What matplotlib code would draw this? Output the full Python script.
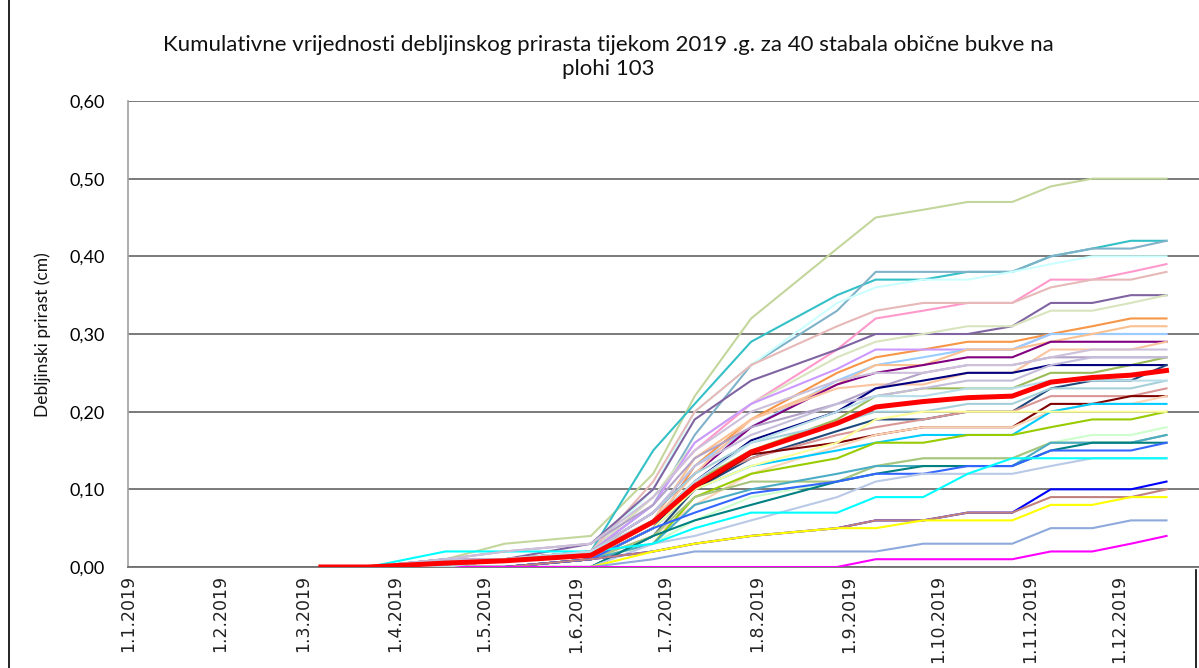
import matplotlib
matplotlib.use("Agg")
import matplotlib.pyplot as plt
import matplotlib.dates as mdates
from matplotlib.ticker import FixedLocator, FuncFormatter
from matplotlib.lines import Line2D
import datetime as dt

# ---- data ----
dates = ["2019-03-07", "2019-03-23", "2019-04-18", "2019-05-08", "2019-06-06",
         "2019-06-27", "2019-07-11", "2019-07-30", "2019-08-28", "2019-09-10",
         "2019-09-26", "2019-10-11", "2019-10-26", "2019-11-08", "2019-11-22",
         "2019-12-05", "2019-12-17"]
month_ticks = ["2019-01-01", "2019-02-01", "2019-03-01", "2019-04-01", "2019-05-01",
               "2019-06-01", "2019-07-01", "2019-08-01", "2019-09-01", "2019-10-01",
               "2019-11-01", "2019-12-01"]

s01 = [0, 0, 0.01, 0.03, 0.04, 0.12, 0.22, 0.32, 0.41, 0.45, 0.46, 0.47, 0.47, 0.49, 0.50, 0.50, 0.50]
s02 = [0, 0, 0.01, 0.01, 0.02, 0.15, 0.21, 0.29, 0.35, 0.37, 0.37, 0.38, 0.38, 0.40, 0.41, 0.42, 0.42]
s03 = [0, 0, 0, 0.01, 0.02, 0.08, 0.17, 0.26, 0.33, 0.38, 0.38, 0.38, 0.38, 0.40, 0.41, 0.41, 0.42]
s04 = [0, 0, 0, 0.01, 0.02, 0.10, 0.20, 0.26, 0.34, 0.36, 0.37, 0.37, 0.38, 0.39, 0.40, 0.40, 0.40]
s05 = [0, 0, 0, 0.01, 0.02, 0.09, 0.15, 0.21, 0.28, 0.32, 0.33, 0.34, 0.34, 0.37, 0.37, 0.38, 0.39]
s06 = [0, 0, 0.01, 0.01, 0.02, 0.11, 0.20, 0.26, 0.31, 0.33, 0.34, 0.34, 0.34, 0.36, 0.37, 0.37, 0.38]
s07 = [0, 0, 0.01, 0.01, 0.03, 0.10, 0.19, 0.24, 0.28, 0.30, 0.30, 0.30, 0.31, 0.34, 0.34, 0.35, 0.35]
s08 = [0, 0, 0, 0.01, 0.02, 0.09, 0.16, 0.21, 0.27, 0.29, 0.30, 0.31, 0.31, 0.33, 0.33, 0.34, 0.35]
s09 = [0, 0, 0, 0, 0.01, 0.05, 0.13, 0.19, 0.25, 0.27, 0.28, 0.29, 0.29, 0.30, 0.31, 0.32, 0.32]
s10 = [0, 0, 0, 0.01, 0.02, 0.08, 0.16, 0.21, 0.255, 0.28, 0.28, 0.28, 0.28, 0.30, 0.30, 0.30, 0.30]
s11 = [0, 0, 0, 0.01, 0.02, 0.07, 0.13, 0.18, 0.24, 0.26, 0.27, 0.28, 0.28, 0.30, 0.30, 0.30, 0.30]
s12 = [0, 0, 0, 0, 0.01, 0.06, 0.14, 0.19, 0.235, 0.26, 0.26, 0.28, 0.28, 0.29, 0.30, 0.31, 0.31]
s13 = [0, 0, 0, 0.01, 0.02, 0.07, 0.12, 0.18, 0.235, 0.25, 0.26, 0.27, 0.27, 0.29, 0.29, 0.29, 0.29]
s14 = [0, 0, 0, 0, 0.01, 0.06, 0.12, 0.19, 0.23, 0.235, 0.235, 0.25, 0.25, 0.28, 0.28, 0.28, 0.29]
s15 = [0, 0, 0.01, 0.02, 0.03, 0.08, 0.14, 0.18, 0.21, 0.23, 0.25, 0.26, 0.26, 0.27, 0.27, 0.27, 0.27]
s16 = [0, 0, 0, 0.01, 0.02, 0.06, 0.11, 0.15, 0.19, 0.22, 0.23, 0.23, 0.23, 0.25, 0.25, 0.26, 0.27]
s17 = [0, 0, 0, 0, 0.01, 0.05, 0.11, 0.163, 0.20, 0.23, 0.24, 0.25, 0.25, 0.26, 0.26, 0.26, 0.26]
s18 = [0, 0, 0, 0, 0, 0.04, 0.10, 0.14, 0.175, 0.19, 0.19, 0.20, 0.20, 0.23, 0.24, 0.24, 0.26]
s19 = [0, 0, 0, 0.01, 0.02, 0.07, 0.12, 0.16, 0.185, 0.20, 0.20, 0.21, 0.21, 0.23, 0.23, 0.23, 0.24]
s20 = [0, 0, 0, 0.01, 0.02, 0.06, 0.11, 0.14, 0.17, 0.18, 0.19, 0.20, 0.20, 0.22, 0.22, 0.22, 0.23]
s21 = [0, 0, 0, 0, 0.01, 0.05, 0.10, 0.145, 0.16, 0.17, 0.18, 0.18, 0.18, 0.21, 0.21, 0.22, 0.22]
s22 = [0, 0, 0, 0, 0.01, 0.04, 0.08, 0.12, 0.155, 0.17, 0.18, 0.18, 0.18, 0.20, 0.21, 0.21, 0.22]
s23 = [0, 0, 0, 0, 0.01, 0.05, 0.10, 0.13, 0.15, 0.16, 0.17, 0.17, 0.17, 0.20, 0.21, 0.21, 0.21]
s24 = [0, 0, 0, 0, 0.01, 0.03, 0.09, 0.12, 0.14, 0.16, 0.16, 0.17, 0.17, 0.18, 0.19, 0.19, 0.20]
s25 = [0, 0, 0, 0, 0.01, 0.05, 0.10, 0.13, 0.16, 0.19, 0.20, 0.20, 0.20, 0.20, 0.20, 0.20, 0.20]
s26 = [0, 0, 0, 0, 0.01, 0.03, 0.06, 0.09, 0.11, 0.13, 0.14, 0.14, 0.14, 0.16, 0.17, 0.17, 0.18]
s27 = [0, 0, 0, 0, 0.01, 0.04, 0.09, 0.11, 0.11, 0.13, 0.14, 0.14, 0.14, 0.16, 0.16, 0.16, 0.17]
s28 = [0, 0, 0, 0, 0.01, 0.03, 0.08, 0.10, 0.12, 0.13, 0.13, 0.13, 0.13, 0.16, 0.16, 0.16, 0.17]
s29 = [0, 0, 0, 0, 0, 0.04, 0.06, 0.08, 0.11, 0.12, 0.13, 0.13, 0.13, 0.15, 0.16, 0.16, 0.16]
s30 = [0, 0, 0, 0, 0.01, 0.05, 0.07, 0.095, 0.11, 0.12, 0.12, 0.13, 0.13, 0.15, 0.15, 0.15, 0.16]
s31 = [0, 0, 0, 0, 0, 0.03, 0.04, 0.06, 0.09, 0.11, 0.12, 0.12, 0.12, 0.13, 0.14, 0.14, 0.14]
s32 = [0, 0, 0.02, 0.02, 0.02, 0.03, 0.05, 0.07, 0.07, 0.09, 0.09, 0.12, 0.14, 0.14, 0.14, 0.14, 0.14]
s33 = [0, 0, 0, 0, 0.01, 0.02, 0.03, 0.04, 0.05, 0.06, 0.06, 0.07, 0.07, 0.10, 0.10, 0.10, 0.11]
s34 = [0, 0, 0, 0, 0.01, 0.02, 0.03, 0.04, 0.05, 0.06, 0.06, 0.07, 0.07, 0.09, 0.09, 0.09, 0.10]
s35 = [0, 0, 0, 0, 0, 0.02, 0.03, 0.04, 0.05, 0.05, 0.06, 0.06, 0.06, 0.08, 0.08, 0.09, 0.09]
s36 = [0, 0, 0, 0, 0, 0.01, 0.02, 0.02, 0.02, 0.02, 0.03, 0.03, 0.03, 0.05, 0.05, 0.06, 0.06]
s37 = [0, 0, 0, 0, 0, 0, 0, 0, 0, 0.01, 0.01, 0.01, 0.01, 0.02, 0.02, 0.03, 0.04]
s38 = [0, 0, 0.01, 0.02, 0.03, 0.09, 0.15, 0.20, 0.24, 0.25, 0.25, 0.26, 0.26, 0.27, 0.28, 0.28, 0.28]
s39 = [0, 0, 0.01, 0.01, 0.02, 0.07, 0.13, 0.17, 0.21, 0.22, 0.23, 0.24, 0.24, 0.26, 0.27, 0.27, 0.27]
s40 = [0, 0, 0, 0.01, 0.02, 0.06, 0.11, 0.16, 0.20, 0.22, 0.22, 0.23, 0.23, 0.24, 0.24, 0.24, 0.24]
mean_values = [0, 0, 0.005, 0.008, 0.015, 0.058, 0.104, 0.148, 0.185, 0.206, 0.213,
               0.218, 0.220, 0.238, 0.244, 0.247, 0.253]

series = [s01, s02, s03, s04, s05, s06, s07, s08, s09, s10, s11, s12, s13, s14,
          s15, s16, s17, s18, s19, s20, s21, s22, s23, s24, s25, s26, s27, s28,
          s29, s30, s31, s32, s33, s34, s35, s36, s37, s38, s39, s40]
colors = ["#C3D69B", "#33C0C6", "#7FB2C9", "#CCFFFF", "#FF99CC", "#E6B9B8",
          "#8064A2", "#D7E4BD", "#F79646", "#CC99FF", "#99CCFF", "#FAC090",
          "#800080", "#FBC4A0", "#B3A2C7", "#9BBB59", "#000080", "#1F497D",
          "#A5D0DA", "#D99694", "#800000", "#FCD5B5", "#00CCFF", "#99CC00",
          "#FFFF99", "#CCFFCC", "#A9C47F", "#4BACC6", "#008080", "#3366FF",
          "#B9C9E6", "#00FFFF", "#0000FF", "#C0807E", "#FFFF00", "#8EA9DB",
          "#FF00FF", "#CCC0DA", "#C5BEDB", "#B7DEE8"]

title = ("Kumulativne vrijednosti debljinskog prirasta tijekom 2019 .g. za 40 stabala obične bukve na\n"
         "plohi 103")
ylabel = "Debljinski prirast (cm)"
yticks = [0.0, 0.1, 0.2, 0.3, 0.4, 0.5, 0.6]

# ---- figure ----
W, H = 1199, 668
fig = plt.figure(figsize=(W / 100, H / 100), dpi=100)
x0, x1 = 128, 1211
y0, y1 = 567, 101
ax = fig.add_axes([x0 / W, 1 - y0 / H, (x1 - x0) / W, (y0 - y1) / H])

xd = [dt.datetime.strptime(d, "%Y-%m-%d") for d in dates]
for s, c in zip(series, colors):
    ax.plot(xd, s, color=c, lw=1.5, solid_joinstyle="miter", zorder=3)
ax.plot(xd, mean_values, color="#FF0000", lw=3.6, zorder=4)

ax.set_xlim(dt.datetime(2019, 1, 1), dt.datetime(2020, 1, 1))
ax.set_ylim(0, 0.6)
tick_nums = [mdates.date2num(dt.datetime.strptime(d, "%Y-%m-%d")) for d in month_ticks]
ax.xaxis.set_major_locator(FixedLocator(tick_nums))
ax.xaxis.set_major_formatter(FuncFormatter(
    lambda v, p: "{d.day}.{d.month}.{d.year}".format(d=mdates.num2date(v))))
ax.yaxis.set_major_locator(FixedLocator(yticks))
ax.yaxis.set_major_formatter(FuncFormatter(lambda v, p: ("%.2f" % v).replace(".", ",")))

for lab in ax.get_xticklabels():
    lab.set_rotation(90)
    lab.set_fontfamily("DejaVu Sans")
    lab.set_fontsize(12.5)
    lab.set_color("#222222")
ax.tick_params(axis="x", length=0, pad=6)
ax.tick_params(axis="y", length=0, pad=17, labelsize=13)
for lab in ax.get_yticklabels():
    lab.set_fontfamily("Lato")

ax.grid(axis="y", color="#6F6F6F", lw=1.3, zorder=1)
ax.set_axisbelow(True)
for side in ["top", "right"]:
    ax.spines[side].set_visible(False)
ax.spines["left"].set_color("#A0A0A0")
ax.spines["left"].set_linewidth(1.2)
ax.spines["bottom"].set_color("#6F6F6F")
ax.spines["bottom"].set_linewidth(1.3)

fig.text(608 / W, 1 - 57 / H, title, ha="center", va="center", fontsize=16,
         family="Lato", linespacing=1.3, color="#111111")
fig.text(43 / W, 1 - 335 / H, ylabel, rotation=90, ha="center", va="center",
         fontsize=12.5, family="Lato", color="#111111")

# chart-area border (left and right edges)
fig.add_artist(Line2D([8.5 / W, 8.5 / W], [0, 1], transform=fig.transFigure,
                      color="#000000", lw=1.2))
fig.add_artist(Line2D([1195.5 / W, 1195.5 / W], [0, 1 - 570 / H], transform=fig.transFigure,
                      color="#000000", lw=1.2))

fig.savefig("out.png", dpi=100)
